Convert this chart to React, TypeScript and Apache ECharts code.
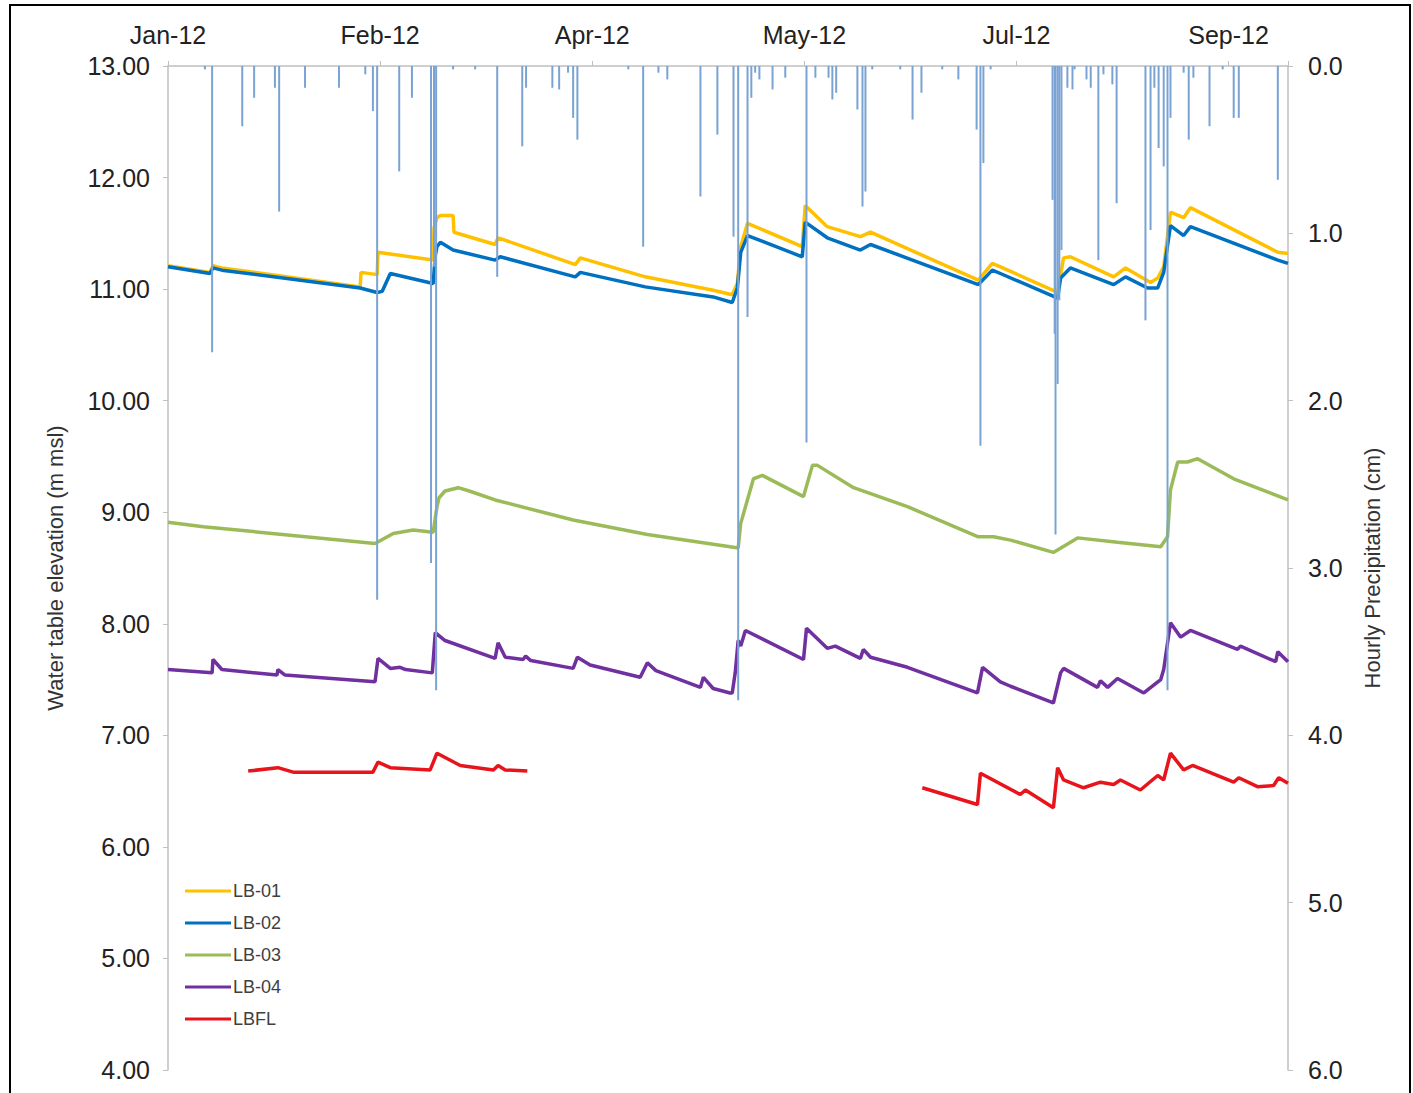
import React, { useEffect, useRef } from 'react';
import * as echarts from 'echarts';

// Days counted from 1 Jan 2012; a date label every 50 days.
const dateLabels = ['Jan-12', 'Feb-12', 'Apr-12', 'May-12', 'Jul-12', 'Sep-12'];
const labelStepDays = 50;
const lastDay = 264;

// Water table elevation (m msl): [day, elevation]
const lb01: [number, number][] = [
  [0, 11.21], [9.9, 11.15], [10.6, 11.21], [12.7, 11.19], [45.3, 11.02], [45.5, 11.15],
  [49.3, 11.13], [49.5, 11.33], [62.5, 11.26], [62.7, 11.55], [63.4, 11.64], [64.2, 11.66],
  [67.2, 11.66], [67.4, 11.51], [77.1, 11.40], [77.8, 11.46], [96.0, 11.22], [97.2, 11.28],
  [112.5, 11.11], [128.5, 10.99], [133.0, 10.95], [134.2, 11.05], [135.0, 11.38], [136.6, 11.59],
  [149.5, 11.38], [150.2, 11.75], [155.4, 11.56], [163.2, 11.47], [165.6, 11.51], [191.0, 11.08],
  [194.3, 11.23], [196.2, 11.20], [209.7, 10.97], [211.1, 11.28], [212.7, 11.29], [222.9, 11.11],
  [225.7, 11.19], [231.6, 11.06], [233.3, 11.10], [234.7, 11.20], [236.3, 11.69], [239.4, 11.64],
  [241.0, 11.73], [261.6, 11.33], [264.0, 11.32],
];

const lb02: [number, number][] = [
  [0, 11.20], [9.9, 11.14], [10.6, 11.19], [12.7, 11.17], [45.3, 11.01], [49.3, 10.97],
  [50.5, 10.98], [52.4, 11.14], [62.5, 11.05], [63.0, 11.30], [63.4, 11.38], [64.2, 11.42],
  [67.2, 11.35], [77.1, 11.26], [78.3, 11.29], [96.0, 11.11], [97.2, 11.15], [112.5, 11.02],
  [128.5, 10.93], [133.0, 10.88], [134.2, 11.01], [135.0, 11.33], [136.6, 11.48], [149.5, 11.29],
  [150.2, 11.60], [155.4, 11.46], [163.2, 11.35], [165.6, 11.40], [191.0, 11.04], [194.3, 11.17],
  [196.2, 11.14], [209.7, 10.92], [210.4, 11.10], [212.7, 11.19], [222.9, 11.04], [225.7, 11.11],
  [230.9, 11.01], [233.3, 11.01], [234.7, 11.15], [236.3, 11.57], [239.4, 11.48], [241.0, 11.56],
  [261.6, 11.26], [264.0, 11.23],
];

const lb03: [number, number][] = [
  [0, 8.91], [8.3, 8.87], [48.8, 8.72], [53.1, 8.81], [57.8, 8.84], [62.5, 8.82], [63.4, 9.05],
  [63.9, 9.13], [65.3, 9.19], [68.4, 9.22], [71.0, 9.19], [77.1, 9.11], [95.5, 8.93], [113.0, 8.80],
  [132.5, 8.69], [134.4, 8.68], [135.0, 8.90], [138.0, 9.30], [140.1, 9.33], [149.8, 9.14],
  [151.9, 9.42], [153.1, 9.42], [161.6, 9.22], [174.3, 9.05], [191.0, 8.78], [194.6, 8.78],
  [198.6, 8.75], [208.7, 8.64], [214.4, 8.77], [223.8, 8.73], [234.0, 8.69], [235.6, 8.78],
  [236.3, 9.20], [238.0, 9.45], [240.3, 9.45], [242.7, 9.48], [251.2, 9.30], [264.0, 9.11],
];

const lb04: [number, number][] = [
  [0, 7.59], [10.4, 7.56], [10.6, 7.68], [12.7, 7.59], [25.7, 7.54], [25.9, 7.59], [27.6, 7.54],
  [48.8, 7.48], [49.5, 7.69], [52.4, 7.60], [54.7, 7.61], [56.0, 7.59], [62.3, 7.56], [63.0, 7.92],
  [65.3, 7.85], [77.1, 7.69], [77.8, 7.83], [79.5, 7.70], [83.7, 7.68], [84.3, 7.71], [85.5, 7.67],
  [95.5, 7.60], [96.5, 7.70], [99.5, 7.63], [111.3, 7.52], [113.0, 7.65], [115.0, 7.58],
  [125.5, 7.43], [126.2, 7.52], [128.5, 7.42], [132.5, 7.38], [133.0, 7.38], [133.7, 7.56],
  [134.4, 7.85], [135.0, 7.80], [136.1, 7.94], [149.8, 7.68], [150.5, 7.96], [155.4, 7.78],
  [157.3, 7.80], [163.2, 7.69], [163.9, 7.77], [165.6, 7.70], [174.3, 7.61], [190.8, 7.38],
  [192.0, 7.61], [196.2, 7.48], [198.6, 7.44], [208.7, 7.29], [210.4, 7.56], [211.1, 7.60],
  [219.1, 7.43], [219.8, 7.49], [221.5, 7.43], [223.8, 7.51], [230.0, 7.38], [234.0, 7.50],
  [234.7, 7.59], [236.3, 8.01], [238.7, 7.88], [241.0, 7.94], [252.1, 7.77], [252.8, 7.80],
  [261.1, 7.66], [261.6, 7.75], [264.0, 7.66],
];

// LBFL logger recorded in two separate periods
const lbflEarly: [number, number][] = [
  [18.9, 6.68], [25.9, 6.71], [29.5, 6.67], [48.3, 6.67], [49.5, 6.76], [52.4, 6.71],
  [61.8, 6.69], [63.4, 6.84], [68.9, 6.73], [76.7, 6.69], [77.8, 6.73], [79.5, 6.69], [84.7, 6.68],
];
const lbflLate: [number, number][] = [
  [177.8, 6.53], [190.8, 6.38], [191.5, 6.66], [200.9, 6.47], [202.1, 6.51], [208.7, 6.35],
  [209.7, 6.71], [211.1, 6.60], [215.8, 6.53], [219.8, 6.58], [222.9, 6.56], [224.5, 6.60],
  [229.2, 6.51], [233.3, 6.64], [234.7, 6.60], [236.3, 6.84], [239.4, 6.69], [241.5, 6.73],
  [251.2, 6.58], [252.4, 6.62], [256.8, 6.54], [260.6, 6.55], [261.8, 6.62], [264.0, 6.57],
];

// Hourly precipitation (cm): [day, depth]
const precipitation: [number, number][] = [
  [8.7, 0.02], [10.4, 1.71], [17.5, 0.36], [20.3, 0.19], [25.2, 0.13], [26.2, 0.87], [32.3, 0.13],
  [40.3, 0.13], [46.5, 0.05], [48.3, 0.27], [49.3, 3.19], [54.5, 0.63], [57.5, 0.19],
  [62.0, 2.97], [62.7, 1.2], [63.2, 3.73], [67.2, 0.02], [72.4, 0.02], [77.6, 1.26],
  [83.5, 0.48], [84.4, 0.13], [90.6, 0.13], [92.2, 0.14], [94.3, 0.04], [95.5, 0.31],
  [96.5, 0.44], [108.5, 0.02], [112.0, 1.08], [115.6, 0.04], [117.7, 0.08], [125.5, 0.78],
  [129.5, 0.41], [133.3, 1.02], [134.4, 3.79], [136.6, 1.50], [137.5, 0.19], [138.4, 0.04],
  [139.4, 0.08], [142.5, 0.14], [145.5, 0.07], [150.5, 2.25], [152.6, 0.07], [155.7, 0.07],
  [156.6, 0.20], [157.5, 0.16], [162.5, 0.26], [163.7, 0.84], [164.4, 0.75], [166.0, 0.02],
  [172.6, 0.02], [175.5, 0.32], [177.6, 0.16], [182.5, 0.02], [186.3, 0.08], [190.6, 0.38],
  [191.5, 2.27], [192.2, 0.58], [193.9, 0.02], [208.5, 0.80], [209.0, 1.60], [209.2, 2.80],
  [209.7, 1.90], [210.1, 1.40], [210.6, 1.10], [212.0, 0.13], [213.2, 0.14], [213.7, 0.02],
  [216.5, 0.08], [217.5, 0.13], [219.3, 1.16], [220.5, 0.05], [222.6, 0.11], [223.6, 0.82],
  [230.4, 1.52], [231.6, 0.98], [232.5, 0.13], [233.5, 0.49], [234.7, 0.60], [235.6, 3.73],
  [236.3, 0.31], [239.4, 0.04], [240.6, 0.44], [241.7, 0.07], [245.5, 0.36], [248.6, 0.02],
  [251.2, 0.31], [252.4, 0.31], [261.6, 0.68],
];

const FONT = '"Liberation Sans", Arial, sans-serif';
const AXIS_GREY = '#BFBFBF';

function lineSeries(name: string, data: [number, number][], color: string) {
  return {
    name,
    type: 'line',
    data,
    xAxisIndex: 0,
    yAxisIndex: 0,
    showSymbol: false,
    symbol: 'none',
    lineStyle: { color, width: 3.5 },
    itemStyle: { color },
    z: 2,
  };
}

export default function App() {
  const ref = useRef<HTMLDivElement>(null);

  useEffect(() => {
    const chart = echarts.init(ref.current!, null, { renderer: 'svg' });
    chart.setOption({
      animation: false,
      backgroundColor: '#ffffff',
      textStyle: { fontFamily: FONT },
      grid: { left: 168, right: 125, top: 66, bottom: 23, containLabel: false },
      graphic: [
        {
          type: 'rect',
          shape: { x: 10, y: 5, width: 1400, height: 1100 },
          style: { fill: 'none', stroke: '#000000', lineWidth: 2 },
          silent: true,
        },
      ],
      legend: {
        orient: 'vertical',
        left: 180,
        top: 877,
        icon: 'rect',
        itemWidth: 46,
        itemHeight: 3,
        itemGap: 14,
        data: ['LB-01', 'LB-02', 'LB-03', 'LB-04', 'LBFL'],
        textStyle: { fontFamily: FONT, fontSize: 18, color: '#404040', lineHeight: 18, padding: [0, 0, 0, -3] },
      },
      xAxis: {
        type: 'value',
        position: 'top',
        min: 0,
        max: lastDay,
        interval: labelStepDays,
        splitLine: { show: false },
        axisLine: { show: true, lineStyle: { color: AXIS_GREY, width: 1.5 } },
        axisTick: { show: true, length: 5, lineStyle: { color: AXIS_GREY } },
        axisLabel: {
          fontFamily: FONT,
          fontSize: 25,
          color: '#222222',
          margin: 19,
          formatter: (v: number) => {
            const i = v / labelStepDays;
            return Number.isInteger(i) && dateLabels[i] ? dateLabels[i] : '';
          },
        },
      },
      yAxis: [
        {
          type: 'value',
          min: 4,
          max: 13,
          interval: 1,
          name: 'Water table elevation (m msl)',
          nameLocation: 'middle',
          nameRotate: 90,
          nameGap: 102,
          nameTextStyle: { fontFamily: FONT, fontSize: 22, color: '#333333' },
          splitLine: { show: false },
          axisLine: { show: true, lineStyle: { color: AXIS_GREY, width: 1.5 } },
          axisTick: { show: true, length: 5, lineStyle: { color: AXIS_GREY } },
          axisLabel: {
            fontFamily: FONT,
            fontSize: 25,
            color: '#222222',
            margin: 18,
            formatter: (v: number) => v.toFixed(2),
          },
        },
        {
          type: 'value',
          min: 0,
          max: 6,
          interval: 1,
          inverse: true,
          position: 'right',
          name: 'Hourly Precipitation (cm)',
          nameLocation: 'middle',
          nameRotate: 90,
          nameGap: 73,
          nameTextStyle: { fontFamily: FONT, fontSize: 22, color: '#333333' },
          splitLine: { show: false },
          axisLine: { show: true, lineStyle: { color: AXIS_GREY, width: 1.5 } },
          axisTick: { show: true, length: 5, lineStyle: { color: AXIS_GREY } },
          axisLabel: {
            fontFamily: FONT,
            fontSize: 25,
            color: '#222222',
            margin: 20,
            formatter: (v: number) => v.toFixed(1),
          },
        },
      ],
      series: [
        lineSeries('LB-03', lb03, '#9BBB59'),
        lineSeries('LB-04', lb04, '#7030A0'),
        lineSeries('LBFL', lbflEarly, '#E8141B'),
        lineSeries('LBFL', lbflLate, '#E8141B'),
        lineSeries('LB-01', lb01, '#FFC000'),
        lineSeries('LB-02', lb02, '#0070C0'),
        {
          name: 'Precipitation',
          type: 'bar',
          xAxisIndex: 0,
          yAxisIndex: 1,
          data: precipitation,
          barWidth: 2,
          itemStyle: { color: '#7AA3D4' },
          z: 3,
        },
      ],
    });
    return () => chart.dispose();
  }, []);

  return (
    <div
      ref={ref}
      style={{ position: 'absolute', left: 0, top: 0, width: 1413, height: 1093, background: '#ffffff' }}
    />
  );
}
